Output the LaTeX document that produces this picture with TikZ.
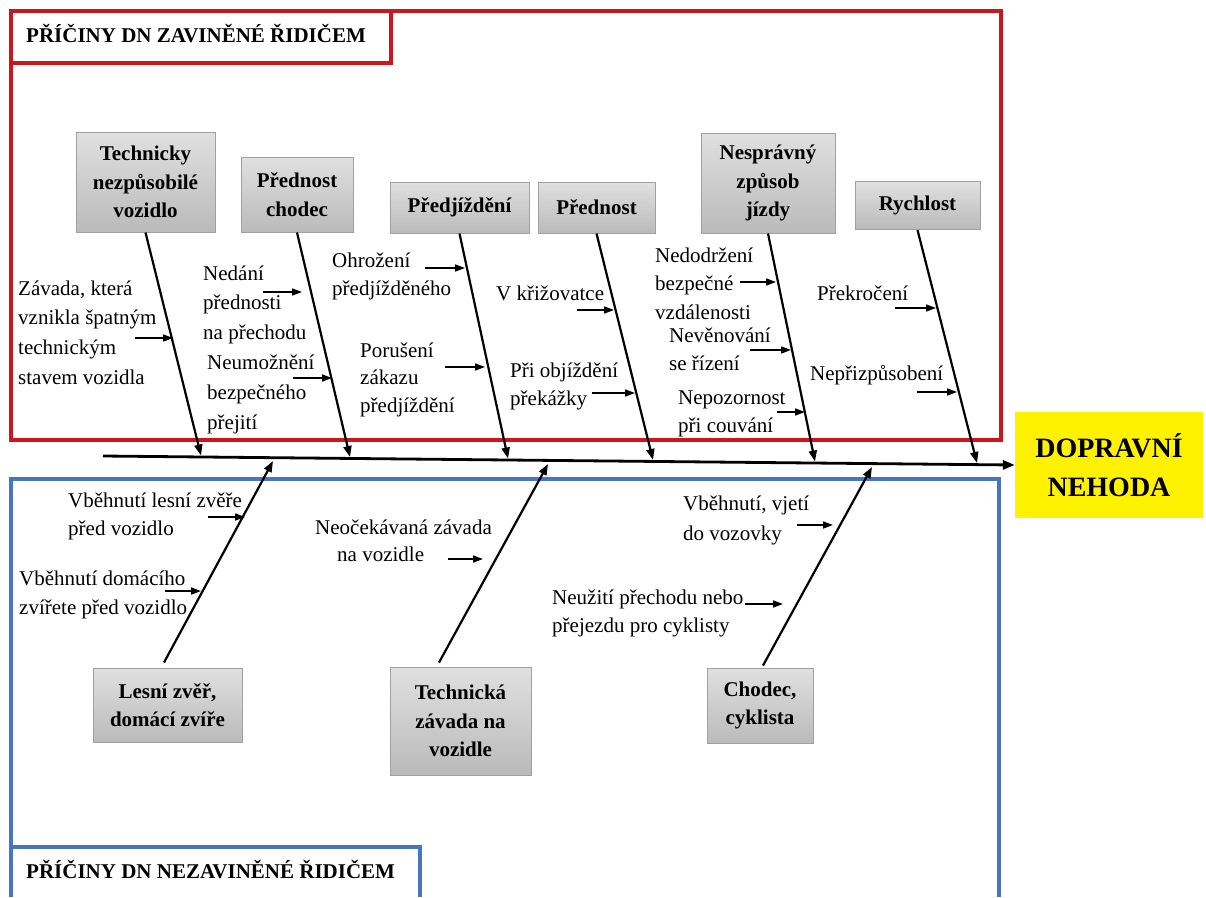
\documentclass[tikz,border=0pt]{standalone}
\usepackage{fontspec}
\setmainfont{Liberation Serif}
\usetikzlibrary{arrows.meta}
\definecolor{fred}{RGB}{204,22,30}
\definecolor{fblue}{RGB}{72,118,188}
\definecolor{boxtop}{RGB}{224,224,224}
\definecolor{boxbot}{RGB}{186,186,186}
\definecolor{boxline}{RGB}{160,160,160}
\newcommand{\mlines}[2][29]{\fontsize{21}{#1}\selectfont\begin{tabular}[t]{@{}l@{}}#2\end{tabular}}
\begin{document}
\begin{tikzpicture}[x=1pt,y=-1pt,
  cause/.style={draw=boxline, line width=1pt, top color=boxtop, bottom color=boxbot,
    font=\fontsize{21}{28.5}\selectfont\bfseries, align=center, inner sep=0pt},
  lbl/.style={anchor=base west, inner sep=0pt, font=\fontsize{21}{29}\selectfont},
  ttl/.style={anchor=base west, inner sep=0pt, font=\fontsize{21}{25}\selectfont\bfseries},
  bone/.style={line width=2.2pt, -{Triangle[length=11pt,width=8pt]}},
  sub/.style={line width=1.6pt, -{Triangle[length=10pt,width=7pt]}},
  frame/.style={line width=3.2pt},
]
\useasboundingbox (0,0) rectangle (1206,897);

% frames
\draw[fred, frame] (11,11) rectangle (1001,440);
\draw[fred, frame] (11,11) rectangle (391,63);
\draw[fblue, frame] (11,897) -- (11,479) -- (999,479) -- (999,897);
\draw[fblue, frame] (11,897) -- (11,847) -- (420,847) -- (420,897);
\node[ttl] (tt1) at (26,42) {PŘÍČINY DN ZAVINĚNÉ ŘIDIČEM};
\node[ttl] (tt2) at (26,878) {PŘÍČINY DN NEZAVINĚNÉ ŘIDIČEM};

% effect
\node[fill=yellow, minimum width=188pt, minimum height=106pt, inner sep=0pt,
  font=\fontsize{28}{39}\selectfont\bfseries, align=center] (dn) at (1109,465) {DOPRAVNÍ\\NEHODA};
\coordinate (sp) at (103,456);
\draw[line width=2.8pt, -{Triangle[length=12pt,width=9pt]}] (sp) -- (dn.west);

% top causes
\node[cause, minimum width=139pt, minimum height=100pt] (c1) at (145.5,182) {Technicky\\nezpůsobilé\\vozidlo};
\node[cause, minimum width=112pt, minimum height=75pt] (c2) at (297,194.5) {Přednost\\chodec};
\node[cause, minimum width=139pt, minimum height=51pt] (c3) at (459.5,207.5) {Předjíždění};
\node[cause, minimum width=117pt, minimum height=51pt] (c4) at (596.5,207.5) {Přednost};
\node[cause, minimum width=134pt, minimum height=100pt] (c5) at (768,183) {Nesprávný\\způsob\\jízdy};
\node[cause, minimum width=125pt, minimum height=48pt] (c6) at (917.5,205.5) {Rychlost};

% bottom causes
\node[cause, minimum width=149pt, minimum height=74pt] (c7) at (167.5,705) {Lesní zvěř,\\domácí zvíře};
\node[cause, minimum width=141pt, minimum height=108pt] (c8) at (460.5,721) {Technická\\závada na\\vozidle};
\node[cause, minimum width=106pt, minimum height=75pt] (c9) at (760,705.5) {Chodec,\\cyklista};

% bone ends on the spine
\coordinate (e1) at (201,455.5);
\coordinate (e2) at (350,457);
\coordinate (e3) at (508,458.5);
\coordinate (e4) at (653,460);
\coordinate (e5) at (815,461.5);
\coordinate (e6) at (977,463);
\coordinate (f1) at (273,461);
\coordinate (f2) at (548,464);
\coordinate (f3) at (872,467);

\draw[bone] (c1.south) -- (e1);
\draw[bone] (c2.south) -- (e2);
\draw[bone] (c3.south) -- (e3);
\draw[bone] (c4.south) -- (e4);
\draw[bone] (c5.south) -- (e5);
\draw[bone] (c6.south) -- (e6);
\draw[bone] ([xshift=-3.5pt,yshift=5pt]c7.north) -- (f1);
\draw[bone] ([xshift=-21.5pt,yshift=4pt]c8.north) -- (f2);
\draw[bone] ([xshift=3pt,yshift=2pt]c9.north) -- (f3);

% sub-causes, top
\node[lbl] (s1) at (18,295) {\mlines[29.7]{Závada, která\\vznikla špatným\\technickým\\stavem vozidla}};
\draw[sub] (135,338) -- (173,338);
\node[lbl] (s2) at (203,280) {\mlines[29.5]{Nedání\\přednosti\\na přechodu}};
\draw[sub] (263,292) -- (302,292);
\node[lbl] (s3) at (207,369) {\mlines[30]{Neumožnění\\bezpečného\\přejití}};
\draw[sub] (293,378) -- (332,378);

\node[lbl] (s4) at (332,267) {\mlines[28]{Ohrožení\\předjížděného}};
\draw[sub] (425,268) -- (465,268);
\node[lbl] (s5) at (360,357) {\mlines[27.5]{Porušení\\zákazu\\předjíždění}};
\draw[sub] (445,367) -- (485,367);

\node[lbl] (s6) at (496,300) {V křižovatce};
\draw[sub] (577,310) -- (614,310);
\node[lbl] (s7) at (510,377) {\mlines[28]{Při objíždění\\překážky}};
\draw[sub] (592,393) -- (635,393);

\node[lbl] (s8) at (655,262) {\mlines[28.5]{Nedodržení\\bezpečné\\vzdálenosti}};
\draw[sub] (740,282) -- (776,282);
\node[lbl] (s9) at (669,342) {\mlines[28]{Nevěnování\\se řízení}};
\draw[sub] (750,350) -- (791,350);
\node[lbl] (s10) at (678,404) {\mlines[28]{Nepozornost\\při couvání}};
\draw[sub] (777,412) -- (805,412);

\node[lbl] (s11) at (817,300) {Překročení};
\draw[sub] (895,308) -- (936,308);
\node[lbl] (s12) at (810,380) {Nepřizpůsobení};
\draw[sub] (917,392) -- (957,392);

% sub-causes, bottom
\node[lbl] (s13) at (68,507) {\mlines[28]{Vběhnutí lesní zvěře\\před vozidlo}};
\draw[sub] (208,517) -- (245,517);
\node[lbl] (s14) at (19,585) {\mlines[29]{Vběhnutí domácího\\zvířete před vozidlo}};
\draw[sub] (165,591) -- (201,591);
\node[lbl] (s15) at (315,534) {\mlines[27]{Neočekávaná závada\\\hspace*{22pt}na vozidle}};
\draw[sub] (448,559) -- (483,559);
\node[lbl] (s16) at (683,510) {\mlines[30]{Vběhnutí, vjetí\\do vozovky}};
\draw[sub] (797,525) -- (833,525);
\node[lbl] (s17) at (552,604) {\mlines[28]{Neužití přechodu nebo\\přejezdu pro cyklisty}};
\draw[sub] (745,604) -- (783,604);
\end{tikzpicture}
\end{document}
